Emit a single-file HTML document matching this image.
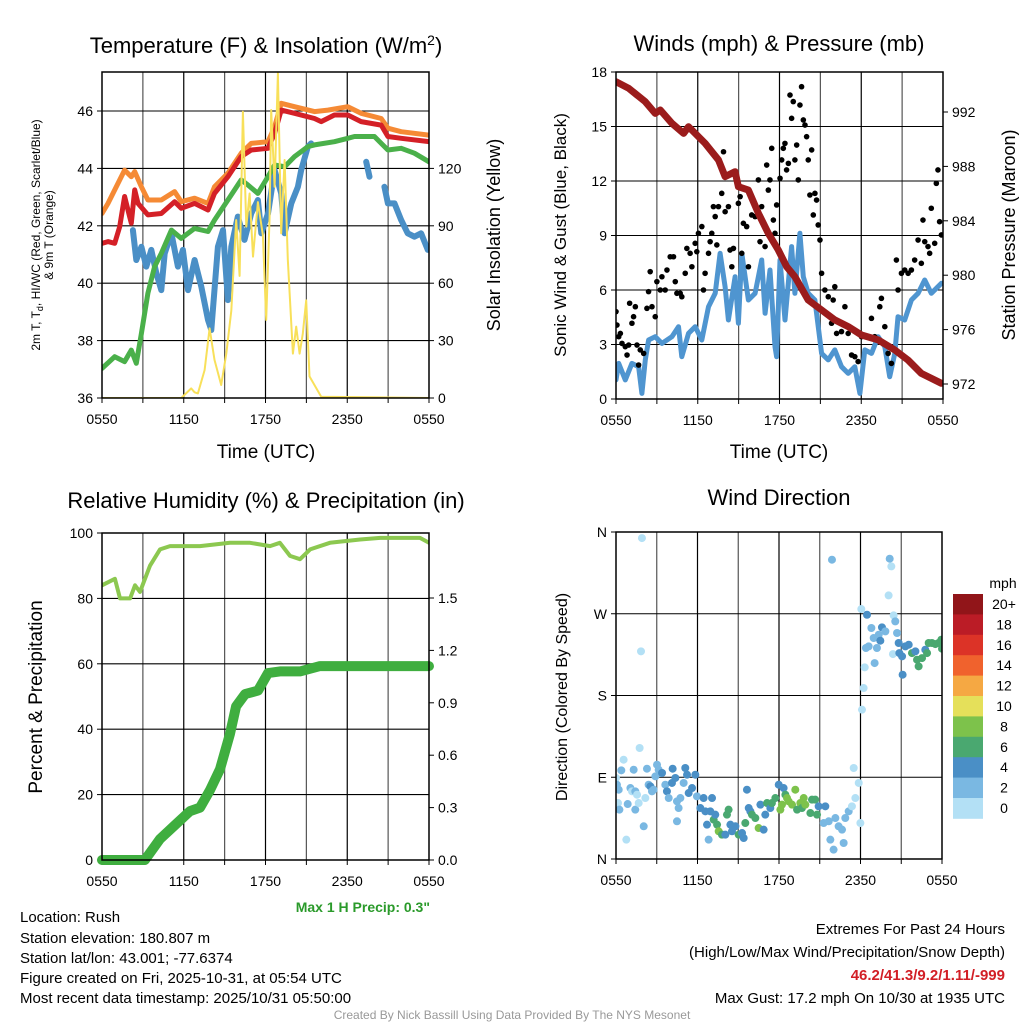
<!DOCTYPE html>
<html><head><meta charset="utf-8"><style>
body{margin:0;background:#fff}
svg{display:block;font-family:"Liberation Sans",sans-serif}
</style></head><body>
<svg id="s" width="1024" height="1024" viewBox="0 0 1024 1024" xmlns="http://www.w3.org/2000/svg">
<defs>
<clipPath id="c1"><rect x="102" y="72" width="327" height="326"/></clipPath>
<clipPath id="c2"><rect x="616" y="72" width="327" height="327"/></clipPath>
<clipPath id="c3"><rect x="102" y="533" width="327" height="327"/></clipPath>
<clipPath id="c4"><rect x="616" y="532" width="326" height="327"/></clipPath>
</defs>
<text x="266" y="53" font-size="22" text-anchor="middle">Temperature (F) &amp; Insolation (W/m<tspan dy="-8" font-size="14">2</tspan><tspan dy="8">)</tspan></text>
<text x="779" y="51" font-size="22" text-anchor="middle">Winds (mph) &amp; Pressure (mb)</text>
<text x="266" y="508" font-size="22" text-anchor="middle">Relative Humidity (%) &amp; Precipitation (in)</text>
<text x="779" y="505" font-size="22" text-anchor="middle">Wind Direction</text>
<text transform="translate(40,235) rotate(-90)" font-size="12" text-anchor="middle">2m T, T<tspan font-size="9" dy="3">d</tspan><tspan dy="-3">, HI/WC (Red, Green, Scarlet/Blue)</tspan></text>
<text transform="translate(53,235) rotate(-90)" font-size="12" text-anchor="middle">&amp; 9m T (Orange)</text>
<text transform="translate(500,235) rotate(-90)" font-size="18" text-anchor="middle">Solar Insolation (Yellow)</text>
<text transform="translate(566,235) rotate(-90)" font-size="17" text-anchor="middle">Sonic Wind &amp; Gust (Blue, Black)</text>
<text transform="translate(1015,235) rotate(-90)" font-size="18" text-anchor="middle">Station Pressure (Maroon)</text>
<text transform="translate(42,697) rotate(-90)" font-size="19" text-anchor="middle">Percent &amp; Precipitation</text>
<text transform="translate(567,697) rotate(-90)" font-size="16" text-anchor="middle">Direction (Colored By Speed)</text>
<text x="266" y="458" font-size="19" text-anchor="middle">Time (UTC)</text>
<text x="779" y="458" font-size="19" text-anchor="middle">Time (UTC)</text>
<text x="430" y="912" font-size="14" font-weight="bold" fill="#2a9a2a" text-anchor="end">Max 1 H Precip: 0.3"</text>
<g font-size="15">
<text x="20" y="922">Location: Rush</text>
<text x="20" y="943">Station elevation: 180.807 m</text>
<text x="20" y="963">Station lat/lon: 43.001; -77.6374</text>
<text x="20" y="983">Figure created on Fri, 2025-10-31, at 05:54 UTC</text>
<text x="20" y="1003">Most recent data timestamp: 2025/10/31 05:50:00</text>
</g>
<g font-size="15" text-anchor="end">
<text x="1005" y="934">Extremes For Past 24 Hours</text>
<text x="1005" y="957">(High/Low/Max Wind/Precipitation/Snow Depth)</text>
<text x="1005" y="980" fill="#d21f26" font-weight="bold">46.2/41.3/9.2/1.11/-999</text>
<text x="1005" y="1003">Max Gust: 17.2 mph On 10/30 at 1935 UTC</text>
</g>
<text x="512" y="1019" font-size="12" fill="#999" text-anchor="middle">Created By Nick Bassill Using Data Provided By The NYS Mesonet</text>
<g id="g"></g>
</svg>
<script>
// ---- panel 1 data
const orangeH=[0,0.44,1.66,2.15,2.40,2.89,3.37,4.35,5.33,5.82,6.80,7.78,8.26,9.24,10.22,10.95,12.18,12.67,13.15,14.13,15.60,16.58,18.04,19.02,20.49,20.98,21.96,24];
const orangeT=[42.43,42.78,43.94,43.71,43.89,43.36,42.90,42.90,43.19,42.84,42.96,42.78,43.36,43.83,44.53,44.87,44.93,45.45,46.27,46.15,45.98,46.03,46.15,45.92,45.74,45.40,45.28,45.16];
const redH=[0,0.44,0.93,1.30,1.66,2.15,2.40,2.64,3.37,4.35,5.33,5.82,6.80,7.78,8.26,9.24,10.22,10.95,12.18,12.67,13.15,14.13,15.60,16.09,17.06,18.04,19.02,20.49,20.98,21.96,24];
const redT=[41.39,41.45,41.39,41.97,43.02,42.09,43.25,42.78,42.38,42.43,42.84,42.61,42.78,42.55,43.13,43.71,44.41,44.64,44.70,45.22,46.03,45.92,45.74,45.63,45.86,45.86,45.63,45.51,45.11,45.05,44.93];
const greenH=[0,0.93,1.66,2.15,2.52,2.89,3.37,3.86,4.35,5.09,5.82,6.80,7.78,8.26,9.24,10.22,10.71,11.44,12.18,12.67,13.40,14.13,15.11,15.60,17.06,18.04,18.53,19.99,20.98,21.96,22.93,24];
const greenT=[37.03,37.44,37.27,37.67,37.21,38.25,39.65,40.58,41.04,41.85,41.56,41.91,41.80,42.20,42.90,43.60,43.42,43.13,43.71,44.12,44.06,44.41,44.76,44.82,44.93,45.05,45.11,45.11,44.64,44.70,44.53,44.23];
const blueH=[2.27,2.52,2.89,3.25,3.62,3.99,4.35,4.60,5.09,5.57,5.94,6.31,6.80,7.29,7.78,8.02,8.51,8.88,9.24,9.49,9.97,10.46,10.95,11.44,11.69,12.18,12.67,13.15,13.40,13.89,14.38,14.62,15.11,15.35,null,19.39,19.63,null,20.73,20.98,21.47,21.96,22.44,22.93,23.42,23.91];
const blueT=[41.85,40.81,41.27,40.58,41.16,40.34,39.76,41.04,41.74,40.58,41.16,39.76,40.81,39.88,38.72,38.37,41.27,41.85,39.41,41.27,42.32,41.51,42.43,42.90,41.74,42.43,43.94,43.13,41.74,42.78,43.36,43.94,44.76,44.87,null,44.23,43.71,null,43.36,42.78,42.78,42.20,41.74,41.62,41.74,41.16];
const solarH=[0,5.82,6.55,6.80,7.04,7.53,7.90,8.26,8.75,9.12,9.49,9.85,10.10,10.34,10.59,10.83,11.08,11.44,11.81,12.05,12.30,12.42,12.67,12.91,13.15,13.40,13.64,14.01,14.25,14.50,14.74,14.99,15.23,16.09,24];
const solarW=[0,0,5,3,2.4,14.6,36.4,19.9,6.8,23.2,45.6,93,63.8,149.6,89.6,106.9,73.9,102.4,85,40.8,94.8,150.5,110.4,169.7,86.1,124.4,72.5,23.2,37.3,23.2,33.6,51,11.3,0.7,0];
const tempTicks=[36,38,40,42,44,46];
const solarTicks=[0,30,60,90,120];
// ---- panel 2 data
const windH=[0,0.20,0.68,1.17,1.66,1.90,2.15,2.39,2.88,3.37,4.10,4.59,4.83,5.32,5.81,6.30,6.79,7.28,7.64,8.01,8.25,8.74,8.98,9.23,9.72,10.21,10.69,10.94,11.30,11.67,11.79,12.04,12.40,12.89,13.13,13.50,13.75,14.11,14.60,15.09,15.58,16.06,16.55,17.04,17.53,17.90,18.26,18.75,19.24,19.73,20.09,20.46,20.70,21.19,21.68,22.17,22.66,23.14,23.88];
const windS=[1.05,1.96,1.05,1.96,1.78,0.31,2.15,3.25,3.43,3.06,3.43,3.98,2.33,3.61,3.98,3.25,5.08,5.82,8.02,6.18,4.35,6.73,4.17,8.02,5.45,5.82,7.65,4.72,7.10,2.88,2.33,7.65,4.35,8.39,5.82,9.12,6.73,5.82,5.45,2.51,2.15,2.70,1.78,1.41,1.78,0.31,2.70,2.51,3.43,2.88,1.23,2.51,4.53,4.35,5.45,5.82,6.55,5.82,6.37];
const presH=[0,0.93,2.15,2.88,3.25,4.10,4.96,5.32,6.54,7.52,8.01,8.74,8.98,9.72,10.45,11.18,11.91,12.52,13.13,14.11,15.09,16.06,17.04,18.02,19.24,20.46,21.44,22.41,23.88];
const presMb=[994.23,993.74,992.76,991.90,992.15,991.17,990.43,990.92,989.70,988.47,987.25,987.61,986.51,986.26,984.55,983.08,981.85,980.63,979.89,978.18,977.44,976.71,976.22,975.60,975.24,974.50,973.76,972.78,972.05];
const gustH=[0,0.07,0.20,0.32,0.44,0.68,0.81,0.93,1.00,1.17,1.29,1.42,1.54,1.66,1.78,2.03,2.27,2.39,2.51,2.64,2.88,3.00,3.25,3.37,3.61,3.74,3.98,4.22,4.35,4.47,4.71,4.83,5.08,5.20,5.44,5.57,5.81,5.93,6.05,6.30,6.42,6.54,6.79,6.91,7.03,7.15,7.28,7.40,7.52,7.76,7.89,8.01,8.25,8.37,8.50,8.62,8.98,9.11,9.23,9.35,9.59,9.72,9.96,10.21,10.45,10.57,10.69,10.94,11.06,11.18,11.30,11.43,11.55,11.67,11.79,12.04,12.16,12.28,12.40,12.52,12.65,12.77,12.89,13.01,13.13,13.26,13.38,13.50,13.62,13.75,13.87,13.99,14.11,14.23,14.36,14.48,14.60,14.72,14.84,14.97,15.09,15.33,15.58,15.82,15.94,16.06,16.19,16.55,16.80,17.04,17.29,17.53,17.77,18.02,18.51,18.75,18.99,19.36,19.48,19.73,19.97,20.21,20.58,20.70,20.95,21.19,21.44,21.68,21.92,22.17,22.41,22.53,22.66,22.90,23.02,23.14,23.39,23.51,23.63,23.75,23.88];
const gustS=[4.81,4.07,3.43,3.61,3.06,2.88,2.42,2.97,5.27,4.17,4.53,5.08,2.97,1.87,2.70,2.51,4.99,5.91,7.01,5.08,4.53,6.46,6.00,6.73,6.00,7.10,7.83,7.83,6.46,5.82,5.82,5.63,6.92,8.29,8.02,7.28,8.57,8.11,9.12,9.49,6.00,6.92,8.02,8.66,9.12,10.59,10.04,8.48,10.59,11.32,13.61,10.31,10.59,8.20,7.28,8.29,10.77,11.14,8.02,9.67,9.49,7.28,10.13,10.04,12.06,8.66,10.59,8.39,12.88,11.50,12.06,13.80,9.85,9.12,10.68,12.15,13.16,13.80,14.07,12.61,12.97,16.73,15.45,16.37,13.16,13.98,12.06,16.18,17.19,15.36,15.08,14.44,13.16,11.23,13.71,10.13,11.32,10.95,9.58,8.75,6.92,6.00,5.63,4.17,5.45,6.18,3.61,3.71,5.08,3.61,2.42,2.33,2.06,3.43,3.43,4.44,3.43,5.08,5.54,3.98,2.51,1.96,7.65,6.00,6.92,7.10,6.92,7.10,7.65,8.75,7.47,9.85,8.66,8.39,8.02,10.50,8.57,11.87,12.61,9.76,9.03];
const windTicks=[0,3,6,9,12,15,18];
const presTicks=[972,976,980,984,988,992];
// ---- panel 3 data
const rhH=[0,0.95,1.32,2.06,2.42,2.79,3.52,4.26,4.99,7.19,9.39,10.86,12.33,13.06,13.80,14.53,15.27,16.73,18.94,20.41,23.34,24];
const rhPct=[84,86,80,80,84,82,90,95,96,96,97,97,96,97,93,92,95,97,98,98.5,98.5,97];
const prH=[0,3.15,4.26,5.36,6.46,7.19,7.93,8.66,9.39,9.84,10.5,11.45,12.18,13.06,14.53,16.0,24];
const prIn=[0,0,0.12,0.2,0.28,0.3,0.4,0.52,0.72,0.88,0.95,0.97,1.07,1.08,1.08,1.11,1.11];
const rhTicks=[0,20,40,60,80,100];
const prTicks=["0.0","0.3","0.6","0.9","1.2","1.5"];
// ---- panel 4 data
const dirH=[1.91,1.84,1.74,0.56,0.39,0,0.07,0.20,0.15,0.25,0.86,0.76,1.42,1.06,1.18,1.42,1.55,1.67,1.30,2.16,2.04,2.28,2.40,2.53,2.65,2.77,2.90,3.02,3.14,3.26,3.39,3.63,3.75,3.88,4.12,4.17,4.37,4.49,4.61,4.49,4.74,4.98,5.10,5.23,5.35,5.60,5.84,5.96,6.21,6.45,6.58,6.70,6.82,6.94,7.07,7.19,7.31,7.44,7.56,7.80,8.05,8.17,8.29,8.42,8.54,8.79,9.03,9.28,9.40,9.52,9.64,9.77,9.89,10.01,10.26,10.50,10.63,10.87,10.99,11.12,11.36,11.48,11.73,11.98,12.10,12.22,12.34,12.47,12.59,12.71,12.96,13.20,13.33,13.57,13.69,13.82,13.94,14.31,14.43,14.67,14.80,14.92,15.29,15.41,15.66,15.78,16.02,16.15,16.39,16.64,16.76,16.88,17.13,17.37,17.50,17.62,17.87,17.99,18.11,18.23,18.31,18.40,18.06,18.48,15.90,18.60,18.80,18.97,19.04,19.21,19.34,19.46,19.58,19.83,20.07,20.15,20.27,20.44,20.56,20.69,20.39,20.81,20.86,21.06,21.10,21.30,21.55,21.79,22.04,22.16,22.28,22.53,22.77,22.90,23.02,23.26,23.51,23.75,23.95,24.0];
const dirDeg=[353.3,228.6,122.2,109.3,97.6,89.2,81.8,76.3,61.6,54.3,60.5,21.3,54.3,78.1,74.5,74.5,70.8,61.6,98.3,67.1,36.0,99.4,81.8,80.0,74.5,76.3,91.0,103.8,98.3,94.7,94.7,81.8,74.5,67.1,83.7,99.4,89.2,63.5,56.1,41.5,67.1,83.7,100.2,92.8,72.6,78.1,92.8,69.0,56.1,67.1,52.5,37.8,21.3,52.5,67.1,43.3,48.8,37.8,30.5,26.8,26.8,48.8,54.3,37.8,30.5,36.0,26.8,28.6,23.1,39.6,76.3,56.1,52.5,48.8,45.1,34.1,59.8,32.3,48.8,61.6,56.1,61.6,67.1,81.8,54.3,59.8,78.1,70.8,67.1,63.5,59.8,76.3,54.3,61.6,56.1,67.1,59.8,50.6,65.3,65.3,48.8,58.0,39.6,58.0,41.5,21.3,10.3,45.1,36.0,32.3,17.6,45.1,52.5,58.0,100.2,67.1,83.7,39.6,164.4,188.2,211.0,232.3,275.2,268.9,329.5,234.1,254.3,243.3,215.7,232.3,246.9,240.3,255.0,250.6,290.2,330.6,322.1,268.2,261.6,248.8,225.6,237.8,226.7,223.1,202.9,234.1,235.9,226.7,228.6,219.4,212.1,221.2,230.4,226.7,237.8,237.8,236.6,237.8,241.4,231.5];
const dirSpd=[1,1,1,1,3,1,3,3,1,3,3,1,3,3,1,3,1,1,3,1,3,3,3,5,3,3,3,3,3,3,5,3,5,3,5,5,5,3,3,3,3,3,5,5,5,5,5,3,5,5,5,5,3,5,5,7,5,7,9,7,5,7,7,5,5,5,7,5,5,7,5,5,5,7,7,9,5,5,5,7,5,7,7,5,9,9,5,7,9,9,9,9,7,9,7,9,9,7,7,7,7,5,3,5,3,3,3,3,3,3,3,3,3,1,1,1,1,1,1,1,1,3,1,5,3,3,3,3,3,3,3,5,5,3,1,3,1,1,3,3,1,5,5,5,5,5,5,7,5,7,7,7,5,7,7,7,7,7,7,7];
const dirTicks=["N","E","S","W","N"];
const spdLabels=["20+","18","16","14","12","10","8","6","4","2","0"];
const spdColors=["#911519","#bb1c26","#dc3327","#f0622d","#f5a843","#e5e05a","#7dc24b","#4aa870","#4a8fc6","#7ab8e2","#b3e0f5"];
const timeLabels=["0550","1150","1750","2350","0550"];

const NS="http://www.w3.org/2000/svg";
const G=document.getElementById('g');
function mk(tag,attrs,parent){const e=document.createElementNS(NS,tag);for(const k in attrs)e.setAttribute(k,attrs[k]);(parent||G).appendChild(e);return e;}
function lin(d0,d1,r0,r1){return v=>r0+(v-d0)*(r1-r0)/(d1-d0);}
function pathOf(xs,ys,fx,fy){let d="",pen=false;for(let i=0;i<xs.length;i++){if(xs[i]==null||ys[i]==null){pen=false;continue;}d+=(pen?"L":"M")+fx(xs[i]).toFixed(1)+","+fy(ys[i]).toFixed(1);pen=true;}return d;}
function frame(x0,y0,x1,y1,name){
  const gg=mk('g',{});
  
  
  const fx=lin(0,24,x0,x1);
  for(let h=3;h<24;h+=3){const x=fx(h);mk('line',{x1:x,y1:y0,x2:x,y2:y1,stroke:(h%6==0?'#000':'#555'),'stroke-width':1.2},gg);}
  for(let h=0;h<=24;h+=3){const x=fx(h);mk('line',{x1:x,y1:y1,x2:x,y2:y1+5,stroke:'#000'},gg);}
  const lab=mk('g',{'font-size':14,'text-anchor':'middle'});
  
  
  timeLabels.forEach((t,i)=>{const e=mk('text',{x:fx(i*6),y:y1+26},lab);e.textContent=t;});
  return fx;
}
function border(x0,y0,x1,y1,name){const r=mk('rect',{x:x0,y:y0,width:x1-x0,height:y1-y0,fill:'none',stroke:'#000','stroke-width':1.5});

}
function hgrid(vals,fy,x0,x1){vals.forEach(v=>{mk('line',{x1:x0,x2:x1,y1:fy(v),y2:fy(v),stroke:'#000','stroke-width':1.1});});}
function yTicks(vals,labels,fy,x,side,name){const g=mk('g',{'font-size':14,'text-anchor':side<0?'end':'start'});


vals.forEach((v,i)=>{const y=fy(v);mk('line',{x1:x,x2:x+side*5,y1:y,y2:y,stroke:'#000'},g);const t=mk('text',{x:x+side*9,y:y+5},g);t.textContent=labels[i];});}

// Panel 1
{const x0=102,y0=72,x1=429,y1=398;const fx=frame(x0,y0,x1,y1,'temperature');
const fy=lin(36,38,398,340.6), fs=lin(0,30,398,340.6);
hgrid(tempTicks,fy,x0,x1);
yTicks(tempTicks,tempTicks,fy,x0,-1,'temperature-y-ticks');
yTicks(solarTicks,solarTicks,fs,x1,1,'solar-y-ticks');
const cg=mk('g',{'clip-path':'url(#c1)',fill:'none','stroke-linejoin':'round','stroke-linecap':'round'});
let p;
p=mk('path',{d:pathOf(blueH,blueT,fx,fy),stroke:'#4a8fc6','stroke-width':6},cg);


p=mk('path',{d:pathOf(greenH,greenT,fx,fy),stroke:'#4ab04a','stroke-width':5},cg);


p=mk('path',{d:pathOf(orangeH,orangeT,fx,fy),stroke:'#f58a35','stroke-width':5},cg);


p=mk('path',{d:pathOf(redH,redT,fx,fy),stroke:'#d42027','stroke-width':5},cg);


p=mk('path',{d:pathOf(solarH,solarW,fx,fs),stroke:'#f8e05a','stroke-width':2},cg);


border(x0,y0,x1,y1,'temperature');}

// Panel 2
{const x0=616,y0=72,x1=943,y1=399;const fx=frame(x0,y0,x1,y1,'winds');
const fy=lin(0,18,399,72), fp=lin(972,992,384,112);
hgrid(windTicks,fy,x0,x1);
yTicks(windTicks,windTicks,fy,x0,-1,'wind-y-ticks');
yTicks(presTicks,presTicks,fp,x1,1,'pressure-y-ticks');
const cg=mk('g',{'clip-path':'url(#c2)',fill:'none','stroke-linejoin':'round','stroke-linecap':'round'});
let p=mk('path',{d:pathOf(windH,windS,fx,fy),stroke:'#4f95d0','stroke-width':5},cg);


const dg=mk('g',{fill:'#000'},cg);


gustH.forEach((h,i)=>{const c=mk('circle',{cx:fx(h),cy:fy(gustS[i]),r:2.8},dg);

});
p=mk('path',{d:pathOf(presH,presMb,fx,fp),stroke:'#9b1c1c','stroke-width':7},cg);


border(x0,y0,x1,y1,'winds');}

// Panel 3
{const x0=102,y0=533,x1=429,y1=860;const fx=frame(x0,y0,x1,y1,'humidity');
const fy=lin(0,100,860,533), fr=lin(0,0.3,860,807.6);
hgrid(rhTicks,fy,x0,x1);
yTicks(rhTicks,rhTicks,fy,x0,-1,'humidity-y-ticks');
yTicks(prTicks.map(Number),prTicks,fr,x1,1,'precip-y-ticks');
const cg=mk('g',{'clip-path':'url(#c3)',fill:'none','stroke-linejoin':'round','stroke-linecap':'round'});
let p=mk('path',{d:pathOf(rhH,rhPct,fx,fy),stroke:'#8cc850','stroke-width':4},cg);


const c3b=mk('g',{},G);
p=mk('path',{d:pathOf(prH,prIn,fx,fr),stroke:'#3fae3f','stroke-width':10,fill:'none','stroke-linejoin':'round','stroke-linecap':'round'},c3b);


border(x0,y0,x1,y1,'humidity');}

// Panel 4
{const x0=616,y0=532,x1=942,y1=859;const fx=frame(x0,y0,x1,y1,'wind-direction');
const fd=lin(0,360,859,532);
const dv=[0,90,180,270,360];
hgrid(dv,fd,x0,x1);
yTicks(dv,dirTicks,fd,x0,-1,'direction-y-ticks');
const cg=mk('g',{'clip-path':'url(#c4)'});


const col=s=>spdColors[10-Math.min(10,Math.floor(s/2))];
dirH.forEach((h,i)=>{const c=mk('circle',{cx:fx(h),cy:fd(dirDeg[i]),r:4,fill:col(dirSpd[i])},cg);

});
border(x0,y0,x1,y1,'wind-direction');
const lg=mk('g',{'font-size':14,'text-anchor':'middle'});


const t=mk('text',{x:1003,y:588},lg);t.textContent='mph';
spdLabels.forEach((l,i)=>{const y=594+i*20.4;
const r=mk('rect',{x:953,y:y,width:30,height:20.8,fill:spdColors[i]},lg);


const tx=mk('text',{x:1004,y:y+15},lg);tx.textContent=l;});}
</script>
</body></html>
